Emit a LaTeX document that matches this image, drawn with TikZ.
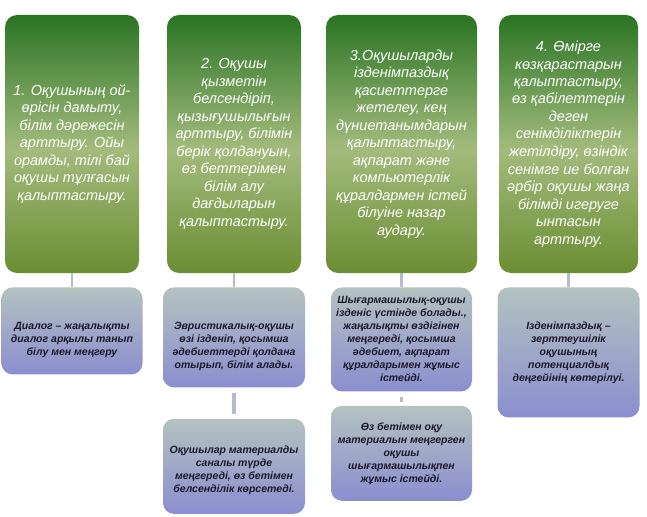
\documentclass[tikz,border=0pt]{standalone}
\usepackage{fontspec}
\setmainfont{Liberation Sans}
\usepackage{tikz}
\usetikzlibrary{positioning}

\definecolor{gtop}{HTML}{2A7424}
\definecolor{gmid}{HTML}{A3BB7C}
\definecolor{gbot}{HTML}{6A8E33}
\definecolor{ltop}{HTML}{B4C2C0}
\definecolor{lmid}{HTML}{D0D4F4}
\definecolor{lbot}{HTML}{8B8ECF}
\definecolor{linkcol}{HTML}{B4BCD0}
\definecolor{lowtext}{HTML}{1A1A2A}

\pgfdeclareverticalshading{greenbox}{100bp}{color(0bp)=(gbot); color(25bp)=(gbot);
  color(49bp)=(gmid); color(75bp)=(gtop); color(100bp)=(gtop)}

\begin{document}
\begin{tikzpicture}[x=1pt,y=1pt,node distance=14pt]

    \tikzstyle{aim}=[shading=greenbox, rounded corners=12pt, minimum height=258pt]
    \tikzstyle{way}=[top color=ltop, middle color=lmid, bottom color=lbot, rounded corners=11pt]
    \tikzstyle{aimtext}=[inner sep=0pt, align=center, text=white,
      font=\fontsize{14.5}{17.5}\selectfont\itshape]
    \tikzstyle{waytext}=[inner sep=0pt, align=center, text=lowtext,
      font=\fontsize{10.5}{13}\selectfont\bfseries\itshape]
    \tikzstyle{link}=[draw=linkcol, line width=2.5pt]

    \useasboundingbox (0,0) rectangle (647,-516);

    % top row
    \node[aim, minimum width=134pt] (1) at (72,-144) {};
    \node[aim, minimum width=134pt] (2) at (234,-144) {};
    \node[aim, minimum width=151pt] (3) at (401.5,-144) {};
    \node[aim, minimum width=139pt] (4) at (568.5,-144) {};

    % ways below
    \node[way, minimum width=141pt, minimum height=87pt] (1a) [below=of 1] {};
    \node[way, minimum width=142pt, minimum height=100pt] (2a) [below=of 2] {};
    \node[way, minimum width=142pt, minimum height=95pt] (2b) [below=31pt of 2a] {};
    \node[way, minimum width=141pt, minimum height=104pt] (3a) [below=of 3] {};
    \node[way, minimum width=141pt, minimum height=95pt] (3b) [below=of 3a] {};
    \node[way, minimum width=142pt, minimum height=130pt] (4a) [below=of 4] {};

    \node[aimtext] (1t) at (1)
      {1. Оқушының ой-\\өрісін дамыту,\\білім дәрежесін\\арттыру. Ойы\\орамды, тілі бай\\оқушы тұлғасын\\қалыптастыру.};
    \node[aimtext] (2t) at (2)
      {2. Оқушы\\қызметін\\белсендіріп,\\қызығушылығын\\арттыру, білімін\\берік қолдануын,\\өз беттерімен\\білім алу\\дағдыларын\\қалыптастыру.};
    \node[aimtext] (3t) at (3)
      {3.Оқушыларды\\ізденімпаздық\\қасиеттерге\\жетелеу, кең\\дүниетанымдарын\\қалыптастыру,\\ақпарат және\\компьютерлік\\құралдармен істей\\білуіне назар\\аудару.};
    \node[aimtext] (4t) at (4)
      {4. Өмірге\\көзқарастарын\\қалыптастыру,\\өз қабілеттерін\\деген\\сенімділіктерін\\жетілдіру, өзіндік\\сенімге ие болған\\әрбір оқушы жаңа\\білімді игеруге\\ынтасын\\арттыру.};

    \node[waytext] (1at) at ([yshift=-9pt]1a.center)
      {Диалог – жаңалықты\\диалог арқылы танып\\білу мен меңгеру};
    \node[waytext] (2at) at ([yshift=-9pt]2a.center)
      {Эвристикалық-оқушы\\өзі ізденіп, қосымша\\әдебиеттерді қолдана\\отырып, білім алады.};
    \node[waytext] (2bt) at ([yshift=-4pt]2b.center)
      {Оқушылар материалды\\саналы түрде\\меңгереді, өз бетімен\\белсенділік көрсетеді.};
    \node[waytext] (3at) at (3a)
      {Шығармашылық-оқушы\\ізденіс үстінде болады.,\\жаңалықты өздігінен\\меңгереді, қосымша\\әдебиет, ақпарат\\құралдарымен жұмыс\\істейді.};
    \node[waytext] (3bt) at (3b)
      {Өз бетімен оқу\\материалын меңгерген\\оқушы\\шығармашылықпен\\жұмыс істейді.};
    \node[waytext] (4at) at (4a)
      {Ізденімпаздық –\\зерттеушілік\\оқушының\\потенциалдық\\деңгейінің көтерілуі.};

    \path[link, shorten <=5pt, shorten >=4pt] (1) -- (1a)
      (2) -- (2a)
      (3) -- (3a)
      (4) -- (4a)
      (3a) -- (3b);
    \path[link, line width=4pt, shorten <=5pt, shorten >=5pt] (2a) -- (2b);
\end{tikzpicture}
\end{document}
